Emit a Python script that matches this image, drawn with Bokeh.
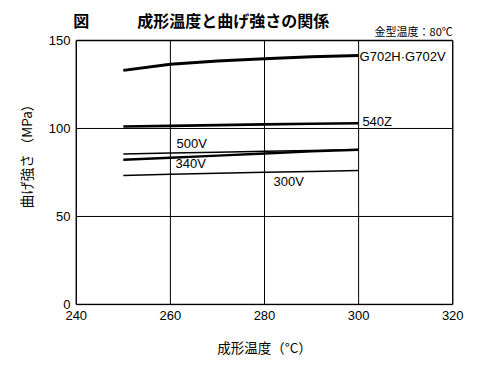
from bokeh.plotting import figure
from bokeh.models import Range1d, FixedTicker, Title
from bokeh.core.properties import value
from bokeh.embed import file_html
from bokeh.resources import INLINE

temps = [250, 260, 270, 280, 290, 300]
g702 = [133.0, 136.5, 138.3, 139.6, 140.7, 141.5]
z540 = [101.1, 101.5, 101.9, 102.3, 102.7, 103.0]
v500 = [85.5, 86.0, 86.5, 87.0, 87.5, 88.0]
v340 = [82.2, 83.4, 84.6, 85.8, 87.0, 87.9]
v300 = [73.3, 74.0, 74.6, 75.1, 75.6, 76.1]
x_ticks = [240, 260, 280, 300, 320]
y_ticks = [0, 50, 100, 150]
series_labels = ["G702H·G702V", "540Z", "500V", "340V", "300V"]
title_text = "図　　　成形温度と曲げ強さの関係"
note_text = "金型温度：80℃"

FONT = "Liberation Sans, Noto Sans CJK JP"
JP = "Noto Sans CJK JP"

x_min, x_max = x_ticks[0], x_ticks[-1]
y_min, y_max = y_ticks[0], y_ticks[-1]

# frame extended a little beyond the chart box (top area holds the title texts)
p = figure(width=484, height=362, output_backend="svg", toolbar_location=None,
           x_range=Range1d(x_min - 0.8, x_max + 0.8),
           y_range=Range1d(y_min - 0.57, y_max + 22.7), title=None,
           min_border_left=72, min_border_right=28, min_border_bottom=57, min_border_top=0)

p.outline_line_color = None
p.background_fill_color = "white"
p.border_fill_color = "white"
p.xgrid.visible = False
p.ygrid.visible = False

for ax in (p.xaxis[0], p.yaxis[0]):
    ax.axis_line_color = None
    ax.major_tick_line_color = None
    ax.minor_tick_line_color = None
    ax.major_tick_out = 0
    ax.major_tick_in = 0
    ax.minor_tick_out = 0
    ax.minor_tick_in = 0
    ax.major_label_text_font = FONT
    ax.major_label_text_font_size = "13px"
    ax.major_label_text_color = "black"
    ax.axis_label_text_font = JP
    ax.axis_label_text_font_size = "13.5px"
    ax.axis_label_text_font_style = "normal"
    ax.axis_label_text_color = "black"

p.xaxis.ticker = FixedTicker(ticks=x_ticks)
p.yaxis.ticker = FixedTicker(ticks=y_ticks)
p.xaxis.axis_label = "成形温度（°C）"
p.xaxis.major_label_standoff = 5
p.yaxis.major_label_standoff = 2
p.xaxis.axis_label_standoff = 14

p.add_layout(Title(text="曲げ強さ （MPa）", align="center", offset=-11.5, standoff=20,
                   text_font=JP, text_font_size="13.5px", text_font_style="normal",
                   text_color="black"), "left")

# inner grid lines
inner_x = x_ticks[1:-1]
inner_y = y_ticks[1:-1]
p.segment(x0=inner_x, y0=[y_min] * len(inner_x), x1=inner_x, y1=[y_max] * len(inner_x),
          line_color="black", line_width=1)
p.segment(x0=[x_min] * len(inner_y), y0=inner_y, x1=[x_max] * len(inner_y), y1=inner_y,
          line_color="black", line_width=1)

# chart box
p.segment(x0=[x_min, x_max, x_min, x_min], y0=[y_min, y_min, y_min, y_max],
          x1=[x_min, x_max, x_max, x_max], y1=[y_max, y_max, y_min, y_max],
          line_color="black", line_width=1.4)

p.line(temps, g702, line_color="black", line_width=3.0)
p.line(temps, z540, line_color="black", line_width=2.6)
p.line(temps, v500, line_color="black", line_width=1.5)
p.line(temps, v340, line_color="black", line_width=2.4)
p.line(temps, v300, line_color="black", line_width=1.5)

lx = [300.2, 300.8, 261.3, 261.1, 281.9]
ly = [140.9, 104.1, 91.3, 79.9, 70.1]
p.text(lx, ly, text=series_labels, text_font=value(FONT), text_font_size="13px",
       text_baseline="middle", text_align="left", text_color="black")

# title and note above the chart box
p.text([x_min], [y_max + 11.4], text=[title_text], x_offset=-3, text_font=value(JP),
       text_font_size="16px", text_font_style="bold", text_baseline="middle",
       text_align="left", text_color="black")
p.text([x_max], [y_max + 5.1], text=[note_text], text_font=value(JP),
       text_font_size="11px", text_baseline="middle", text_align="right", text_color="black")

open("out.html", "w").write(file_html(p, INLINE))
